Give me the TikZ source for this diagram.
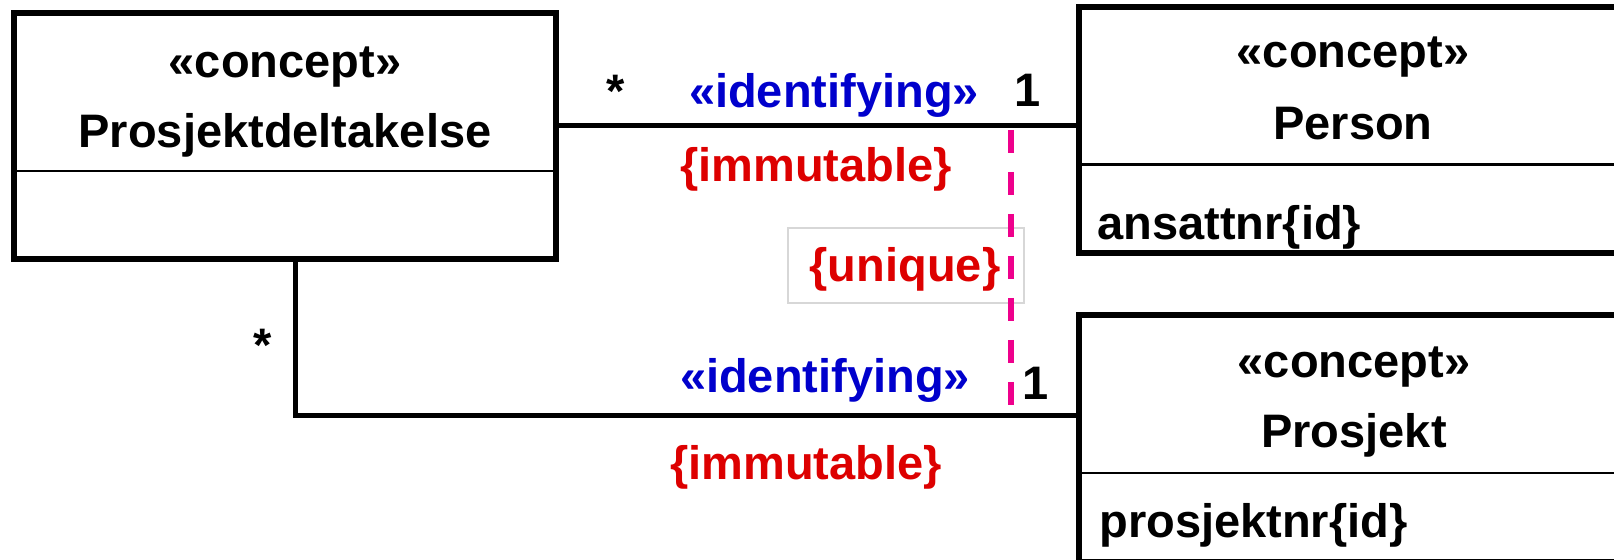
\documentclass[tikz,border=0pt]{standalone}
\usepackage{fontspec}
\setmainfont{Liberation Sans}
\definecolor{stereoblue}{RGB}{0,0,204}
\definecolor{constrred}{RGB}{221,0,0}
\definecolor{xorpink}{RGB}{238,0,140}
\definecolor{notegray}{RGB}{215,215,215}
\begin{document}
\begin{tikzpicture}[x=0.5pt,y=-0.5pt,
  umlbox/.style={draw, line width=3pt, inner sep=0pt, outer sep=0pt, anchor=north west},
  assoc/.style={line width=2.5pt},
  compart/.style={line width=1.2pt},
  xorline/.style={draw=xorpink, line width=2.6pt, dash pattern=on 11.5pt off 9.5pt},
  txt/.style={font=\fontsize{23.5}{28}\selectfont\bfseries, inner sep=0pt, anchor=base},
  attr/.style={txt, anchor=base west},
  stereo/.style={txt, text=stereoblue},
  constr/.style={txt, text=constrred}]
\useasboundingbox (0,0) rectangle (1614,560);
\clip (0,0) rectangle (1614,560);

% class boxes
\node[umlbox, minimum width=271pt, minimum height=123.15pt] (pd) at (14,12.7) {};
\node[umlbox, minimum width=311pt, minimum height=123pt] (person) at (1079,7) {};
\node[umlbox, minimum width=311pt, minimum height=123.25pt] (prosjekt) at (1079,315.5) {};

% compartment separators
\draw[compart] (pd.west |- 0,171) -- (pd.east |- 0,171);
\draw[compart] (person.west |- 0,164.5) -- (person.east |- 0,164.5);
\draw[compart] (prosjekt.west |- 0,473) -- (prosjekt.east |- 0,473);

% class texts
\node[txt] (pdst) at (285,78) {«concept»};
\node[txt] (pdname) at (285,148) {Prosjektdeltakelse};
\node[txt] (pst) at (1353,68) {«concept»};
\node[txt] (pname) at (1353,140) {Person};
\node[attr] (pattr) at (1097,240) {ansattnr\{id\}};
\node[txt] (prst) at (1354,378) {«concept»};
\node[txt] (prname) at (1354,448) {Prosjekt};
\node[attr] (prattr) at (1099,538) {prosjektnr\{id\}};

% associations
\coordinate (bend) at (295,416);
\draw[assoc] (pd.east |- 0,126) -- (person.west |- 0,126);
\draw[assoc] (pd.south -| bend) -- (bend) -- (prosjekt.west |- bend);

% association labels
\node[txt] (m1) at (616,108) {*};
\node[stereo] (id1) at (834,108) {«identifying»};
\node[txt] (n1) at (1028,107) {1};
\node[constr] (im1) at (816,182) {\{immutable\}};

\node[txt] (m2) at (263,362) {*};
\node[stereo] (id2) at (825,393) {«identifying»};
\node[txt] (n2) at (1036,400) {1};
\node[constr] (im2) at (806,480) {\{immutable\}};

% constraint between the two associations
\node[draw=notegray, line width=1.2pt, inner sep=0pt, anchor=north west,
      minimum width=118pt, minimum height=37.5pt] (note) at (787,227) {};
\node[constr] (uq) at (905,282) {\{unique\}};
\coordinate (c1) at (1011,130);
\coordinate (c2) at (1011,405);
\draw[xorline] (c1) -- (c2);
\end{tikzpicture}
\end{document}
